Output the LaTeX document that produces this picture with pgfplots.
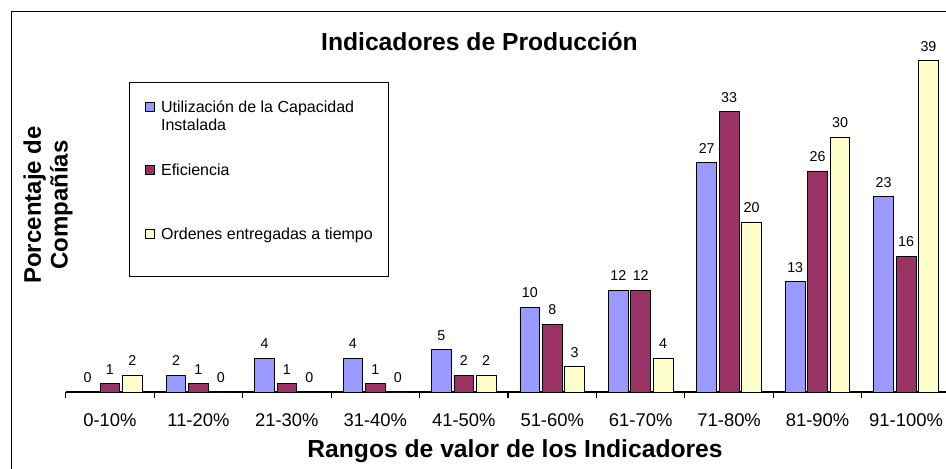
\documentclass[border=0pt]{standalone}
\usepackage{pgfplots}
\pgfplotsset{compat=1.18}
\usepackage{fontspec}
\setmainfont{Liberation Sans}
\definecolor{cA}{HTML}{9999FF}
\definecolor{cB}{HTML}{993366}
\definecolor{cC}{HTML}{FFFFCC}
\begin{document}
\begin{tikzpicture}
\path[use as bounding box] (0,0) rectangle (709.5pt,351pt);
\draw[line width=1pt] (8.6pt,-10pt) rectangle (730pt,342.4pt);
\begin{axis}[
  at={(49.3pt,57pt)}, anchor=south west,
  scale only axis, width=663.4pt, height=255pt,
  xmin=-0.5, xmax=9.5, ymin=0, ymax=40,
  ybar, bar width=14.8pt,
  axis x line*=bottom, axis y line=none,
  xtick={0,...,9},
  xticklabels={0-10\%,11-20\%,21-30\%,31-40\%,41-50\%,51-60\%,61-70\%,71-80\%,81-90\%,91-100\%},
  major tick length=0pt,
  minor xtick={-0.5,0.5,...,9.5},
  minor tick length=4.5pt, tick align=outside,
  x axis line style={line width=0.8pt, black},
  every tick/.style={line width=0.8pt, black},
  xticklabel style={font=\fontsize{13.8}{16}\selectfont, anchor=base, yshift=-26pt, inner sep=0pt},
  /pgf/number format/assume math mode=true,
  nodes near coords,
  every node near coord/.append style={font=\fontsize{10.7}{12}\selectfont, inner sep=0pt, anchor=south, yshift=6.5pt, black},
  legend image code/.code={\draw[#1, draw=black, line width=0.5pt] (0pt,0.95pt) rectangle (6.75pt,7.7pt);},
  legend style={at={(0.0716,0.9118)}, anchor=north west, draw=black, line width=0.6pt,
    inner xsep=12pt, inner ysep=7.5pt, row sep=12.4pt, column sep=4.5pt,
    font=\fontsize{12}{14}\selectfont,
    cells={anchor=base west},
    nodes={inner sep=0pt, text height=14.8pt, text depth=20.5pt, anchor=base west}},
]
\addplot[fill=cA, draw=black, line width=0.6pt] coordinates {(0,0) (1,2) (2,4) (3,4) (4,5) (5,10) (6,12) (7,27) (8,13) (9,23)};
\addplot[fill=cB, draw=black, line width=0.6pt] coordinates {(0,1) (1,1) (2,1) (3,1) (4,2) (5,8) (6,12) (7,33) (8,26) (9,16)};
\addplot[fill=cC, draw=black, line width=0.6pt] coordinates {(0,2) (1,0) (2,0) (3,0) (4,2) (5,3) (6,4) (7,20) (8,30) (9,39)};
\addlegendentry{\vtop{\hbox{Utilización de la Capacidad}\hbox{Instalada}}}
\addlegendentry{Eficiencia}
\addlegendentry{Ordenes entregadas a tiempo}
\end{axis}
\node[anchor=base, font=\bfseries\fontsize{18.5}{22}\selectfont] at (359.6pt,312.75pt) {Indicadores de Producción};
\node[anchor=base, font=\bfseries\fontsize{18.5}{22}\selectfont] at (386.25pt,8.25pt) {Rangos de valor de los Indicadores};
\node[rotate=90, align=center, font=\bfseries\fontsize{18}{20}\selectfont] at (36pt,197.25pt) {Porcentaje de\\Compañías};
\end{tikzpicture}
\end{document}
